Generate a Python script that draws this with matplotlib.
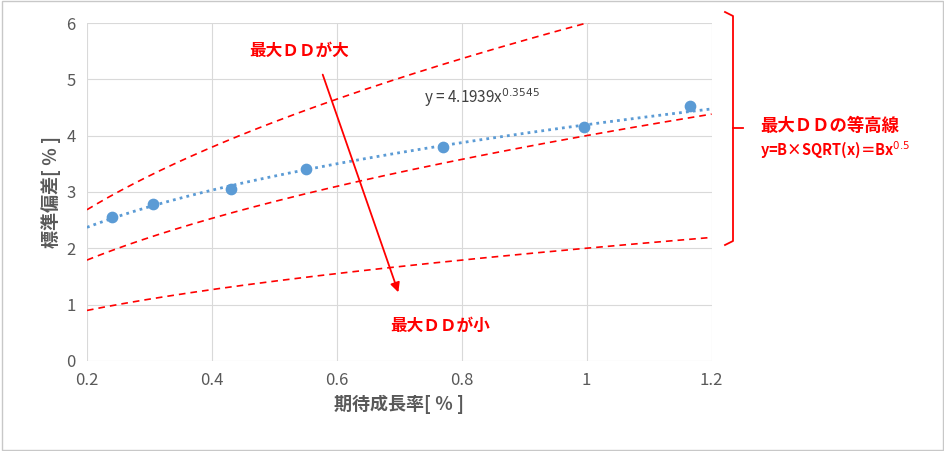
import numpy as np
import matplotlib
matplotlib.use("Agg")
import matplotlib.pyplot as plt
from matplotlib.patches import Rectangle

plt.rcParams['font.family'] = ['Noto Sans CJK JP', 'DejaVu Sans']

x_pts = [0.24, 0.305, 0.43, 0.55, 0.77, 0.995, 1.165]
y_pts = [2.55, 2.78, 3.05, 3.40, 3.80, 4.15, 4.52]
trend_a, trend_b = 4.1939, 0.3545
B_values = [6, 4, 2]
xticks = [0.2, 0.4, 0.6, 0.8, 1.0, 1.2]
xticklabels = ["0.2", "0.4", "0.6", "0.8", "1", "1.2"]
yticks = [0, 1, 2, 3, 4, 5, 6]

fig = plt.figure(figsize=(9.45, 4.51), dpi=100)
fig.patches.append(Rectangle((0.002, 0.002), 0.996, 0.996, transform=fig.transFigure,
                             fill=False, edgecolor="#c8c8c8", linewidth=1))
ax = fig.add_axes([0.092, 0.2, 0.661, 0.749])

xs = np.linspace(0.2, 1.2, 300)
for B in B_values:
    ax.plot(xs, B * np.sqrt(xs), color="#ff0000", linestyle=(0, (4, 3)), linewidth=1.2, clip_on=True)
ax.plot(xs, trend_a * xs ** trend_b, color="#5b9bd5", linestyle=(0, (1, 1.5)), linewidth=2)
ax.scatter(x_pts, y_pts, s=55, color="#5b9bd5", zorder=5)

ax.set_xlim(0.2, 1.2)
ax.set_ylim(0, 6)
ax.set_xticks(xticks)
ax.set_xticklabels(xticklabels)
ax.set_yticks(yticks)
ax.grid(True, color="#d9d9d9", linewidth=0.8)
for s in ax.spines.values():
    s.set_visible(False)
ax.tick_params(length=0, labelsize=12, colors="#595959", pad=8)
ax.set_xlabel("期待成長率[ ％ ]", fontsize=13, fontweight="bold", color="#595959")
ax.set_ylabel("標準偏差[ ％ ]", fontsize=13, fontweight="bold", color="#595959")

ax.text(0.74, 4.58, "y = 4.1939x$^{0.3545}$", fontsize=11, color="#404040")
ax.text(0.54, 5.5, "最大ＤＤが大", fontsize=12, color="#ff0000", fontweight="bold", ha="center", va="center")
ax.text(0.765, 0.62, "最大ＤＤが小", fontsize=12, color="#ff0000", fontweight="bold", ha="center", va="center")
ax.annotate("", xy=(0.70, 1.17), xytext=(0.576, 5.13),
            arrowprops=dict(arrowstyle="-|>", color="#ff0000", lw=1.3, mutation_scale=14))

fig.add_artist(plt.Line2D([725/945, 733/945, 733/945, 725/945],
                          [1-12/451, 1-16/451, 1-241/451, 1-245/451],
                          color="#ff0000", lw=1.3))
fig.add_artist(plt.Line2D([733/945, 743/945], [1-128/451, 1-128/451], color="#ff0000", lw=1.3))
fig.text(760/945, 1-126/451, "最大ＤＤの等高線", fontsize=12.5, color="#ff0000", fontweight="bold", va="center")
fig.text(760/945, 1-150/451, "y=B×SQRT(x)＝Bx$^{0.5}$", fontsize=10.5, color="#ff0000", fontweight="bold", va="center")

fig.savefig("out.png", dpi=100)
